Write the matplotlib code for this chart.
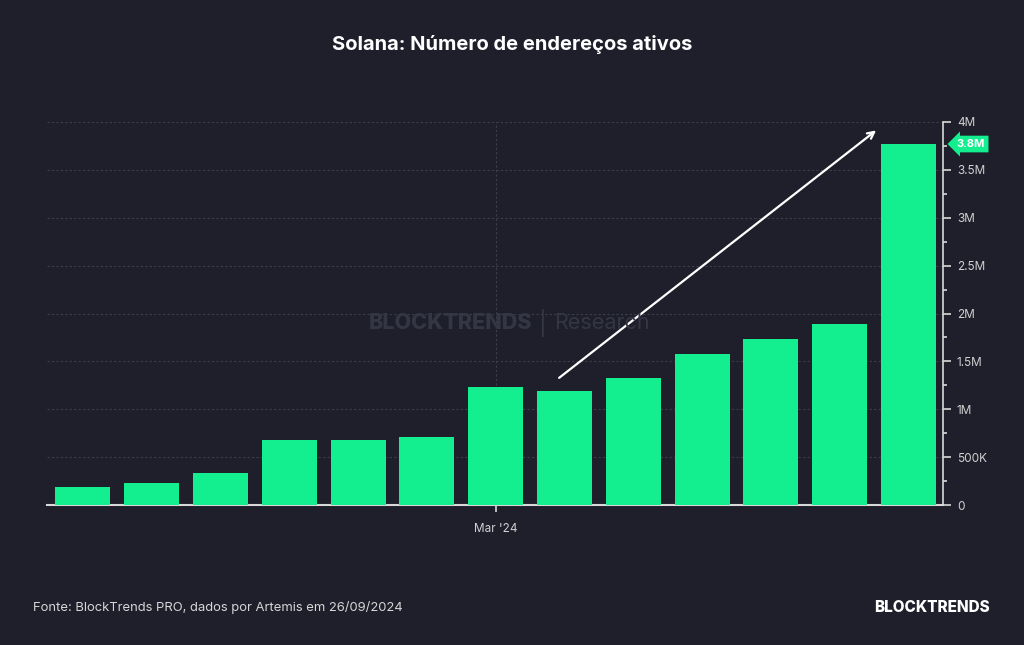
import matplotlib
matplotlib.use("Agg")
import matplotlib.pyplot as plt
from matplotlib.ticker import FixedLocator, MultipleLocator

# data (monthly active addresses, Sep '23 .. Sep '24)
months = ["Sep '23", "Oct '23", "Nov '23", "Dec '23", "Jan '24", "Feb '24", "Mar '24",
          "Apr '24", "May '24", "Jun '24", "Jul '24", "Aug '24", "Sep '24"]
active = [0.19, 0.23, 0.335, 0.68, 0.68, 0.71, 1.23, 1.19, 1.33, 1.58, 1.73, 1.89, 3.77]  # millions
yticks = [0, 0.5, 1, 1.5, 2, 2.5, 3, 3.5, 4]
ylabels = ["0", "500K", "1M", "1.5M", "2M", "2.5M", "3M", "3.5M", "4M"]
last_label = "3.8M"

bg = "#1e1f2b"
green = "#13ef8f"
plt.rcParams["font.family"] = ["Inter", "DejaVu Sans"]

fig = plt.figure(figsize=(10.24, 6.45), dpi=100, facecolor=bg)
ax = fig.add_axes([47/1024, 1-505/645, (943-47)/1024, (505-122)/645])
ax.set_facecolor(bg)

x = list(range(len(months)))
ax.bar(x, active, width=0.8, color=green, zorder=3)
ax.set_xlim(-0.52, 12.5)
ax.set_ylim(0, 4)

# grid
for t in yticks[1:]:
    ax.axhline(t, color="#3c3e4a", lw=0.8, ls=(0, (2, 2)), zorder=1)
ax.axvline(6, color="#3c3e4a", lw=0.8, ls=(0, (2, 2)), zorder=1)

# axes
for s in ["top", "left"]:
    ax.spines[s].set_visible(False)
ax.spines["bottom"].set_color("#d8d8d8")
ax.spines["bottom"].set_linewidth(1.5)
ax.spines["right"].set_color("#d8d8d8")
ax.spines["right"].set_linewidth(1.2)
ax.yaxis.tick_right()
ax.yaxis.set_major_locator(FixedLocator(yticks))
ax.yaxis.set_minor_locator(MultipleLocator(0.25))
ax.set_yticklabels(ylabels)
ax.tick_params(axis="y", which="major", colors="#d8d8d8", labelcolor="#d0d0d0",
               length=6, width=1.2, labelsize=8.5, pad=4)
ax.tick_params(axis="y", which="minor", colors="#d8d8d8", length=3, width=1.2)
ax.set_xticks([6])
ax.set_xticklabels([months[6].split()[0] + " '24"])
ax.tick_params(axis="x", colors="#d8d8d8", labelcolor="#d0d0d0", length=5, width=1.2,
               labelsize=8.5, pad=8)

# last-value tag
ax.annotate(last_label, xy=(12.5, active[-1]), xytext=(12.5 + 0.2, active[-1]),
            textcoords="data", annotation_clip=False, color="white", fontsize=8,
            fontweight="bold", va="center", ha="left",
            bbox=dict(boxstyle="larrow,pad=0.3", fc=green, ec="none"))

# trend arrow
ax.annotate("", xy=(11.56, 3.93), xytext=(6.89, 1.31),
            arrowprops=dict(arrowstyle="->", color="white", lw=1.6, mutation_scale=12), zorder=5)

# watermark
fig.text(450/1024, 1-323/645, "BLOCKTRENDS", color="#343644", fontsize=15.5, fontweight="heavy",
         ha="center", va="center")
fig.text(543/1024, 1-323/645, "|", color="#343644", fontsize=17, ha="center", va="center")
fig.text(602/1024, 1-323/645, "Research", color="#343644", fontsize=15.5, ha="center", va="center")

fig.text(0.5, 1-44/645, "Solana: Número de endereços ativos", color="white", fontsize=14.5,
         fontweight="bold", ha="center", va="center")
fig.text(33/1024, 1-607/645, "Fonte: BlockTrends PRO, dados por Artemis em 26/09/2024",
         color="#d6d6d6", fontsize=9.4, ha="left", va="center")
fig.text(990/1024, 1-607/645, "BLOCKTRENDS", color="white", fontsize=11, fontweight="heavy",
         ha="right", va="center")

fig.savefig("out.png", dpi=100, facecolor=bg)
